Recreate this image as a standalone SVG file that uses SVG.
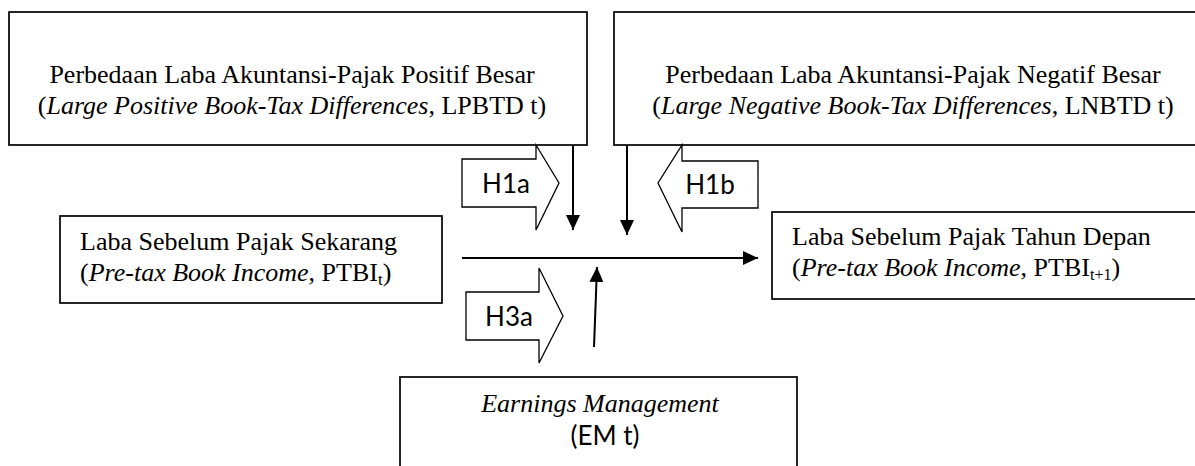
<svg xmlns="http://www.w3.org/2000/svg" width="1195" height="466" viewBox="0 0 1195 466">
<defs>
<style>
.box{fill:#fff;stroke:#000;stroke-width:1.7}
.t{font-family:"Liberation Serif","Times New Roman",serif;font-size:26px;fill:#000}
.c{font-family:Lato,"Open Sans",sans-serif;font-size:26px;fill:#000}
.i{font-style:italic}
.ln{stroke:#000;stroke-width:2;fill:none}
.blk{fill:#fff;stroke:#000;stroke-width:1.3}
</style>
<marker id="ah" markerWidth="15" markerHeight="14" refX="15" refY="7" orient="auto" markerUnits="userSpaceOnUse" viewBox="0 0 15 14">
<path d="M0,0 L15,7 L0,14 z" fill="#000"/>
</marker>
</defs>
<rect width="1195" height="466" fill="#fff"/>
<g id="node-lpbtd">
<rect class="box" x="9" y="12" width="578" height="133"/>
<text class="t" x="292" y="83" text-anchor="middle">Perbedaan Laba Akuntansi-Pajak Positif Besar</text>
<text class="t" x="292" y="114" text-anchor="middle">(<tspan class="i">Large Positive Book-Tax Differences</tspan>, LPBTD t)</text>
</g>
<g id="node-lnbtd">
<rect class="box" x="614" y="12" width="620" height="133"/>
<text class="t" x="913" y="83" text-anchor="middle">Perbedaan Laba Akuntansi-Pajak Negatif Besar</text>
<text class="t" x="913" y="114" text-anchor="middle">(<tspan class="i">Large Negative Book-Tax Differences</tspan>, LNBTD t)</text>
</g>
<g id="node-ptbi-t">
<rect class="box" x="60" y="216" width="382" height="87"/>
<text class="t" x="80" y="250">Laba Sebelum Pajak Sekarang</text>
<text class="t" x="80" y="281">(<tspan class="i">Pre-tax Book Income</tspan>, PTBI<tspan font-size="17" dy="4">t</tspan><tspan dy="-4">)</tspan></text>
</g>
<g id="node-ptbi-t1">
<rect class="box" x="772" y="212" width="460" height="87"/>
<text class="t" x="792" y="245" font-size="25">Laba Sebelum Pajak Tahun Depan</text>
<text class="t" x="792" y="276" font-size="25">(<tspan class="i">Pre-tax Book Income</tspan>, PTBI<tspan font-size="16" dy="4">t+1</tspan><tspan dy="-4">)</tspan></text>
</g>
<g id="node-em">
<rect class="box" x="400" y="377" width="397" height="100"/>
<text class="t i" x="600" y="412" text-anchor="middle">Earnings Management</text>
<text class="c" x="605" y="445" text-anchor="middle">(EM t)</text>
</g>
<g id="node-h1a">
<path class="blk" d="M462,159 H536 V145 L559,183 L536,230 V207 H462 Z"/>
<text class="c" x="506" y="193" text-anchor="middle">H1a</text>
</g>
<g id="node-h1b">
<path class="blk" d="M758,161 H682 V145 L658,183 L682,232 V208 H758 Z"/>
<text class="c" x="710" y="194" text-anchor="middle">H1b</text>
</g>
<g id="node-h3a">
<path class="blk" d="M466,292 H539 V268 L563,316 L539,363 V340 H466 Z"/>
<text class="c" x="509" y="326" text-anchor="middle">H3a</text>
</g>
<g id="connectors">
<line class="ln" x1="462" y1="258" x2="758" y2="258" marker-end="url(#ah)"/>
<line class="ln" x1="573" y1="145" x2="573" y2="230" marker-end="url(#ah)"/>
<line class="ln" x1="627" y1="145" x2="627" y2="235" marker-end="url(#ah)"/>
<line class="ln" x1="594" y1="347" x2="597" y2="267" marker-end="url(#ah)"/>
</g>
</svg>
